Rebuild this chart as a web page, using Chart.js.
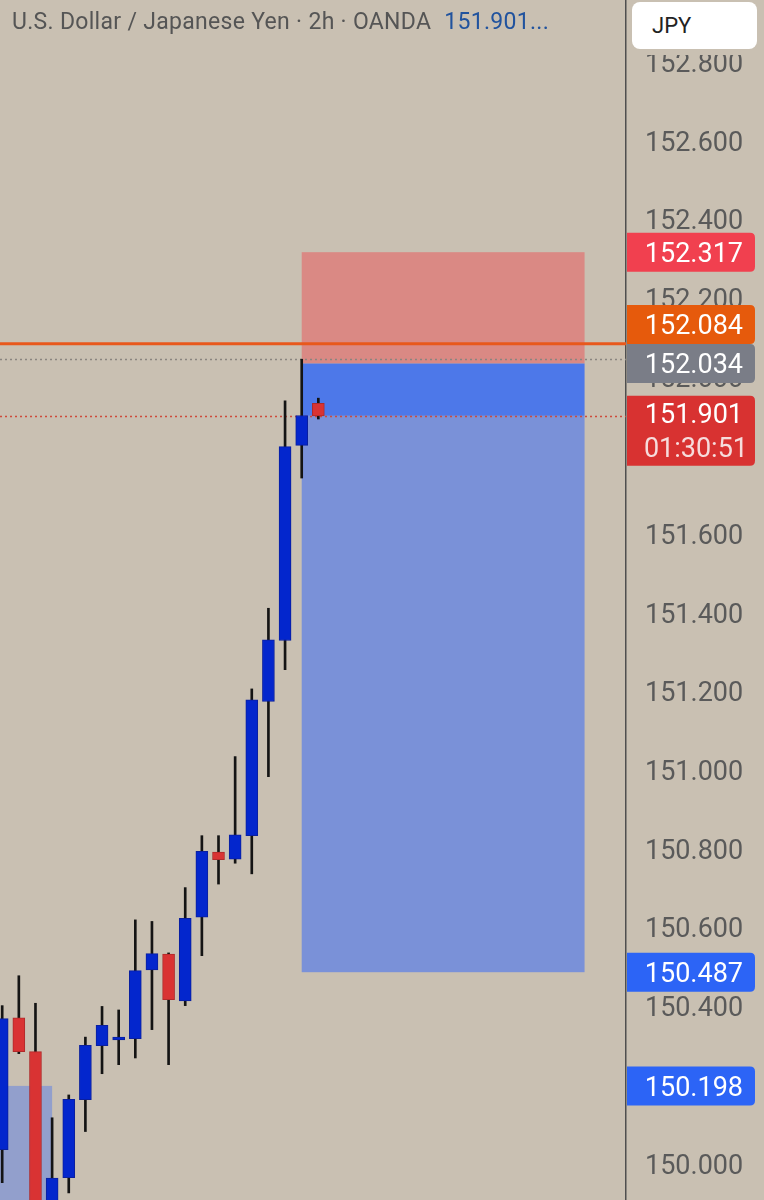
<!DOCTYPE html>
<html lang="en">
<head>
    <meta charset="UTF-8">
    <title>USDJPY 2h</title>
    <script src="https://cdn.jsdelivr.net/npm/chart.js"></script>
    <style>
        body { margin: 0; background: #c9c0b2; }
        #wrap { position: relative; width: 764px; height: 1200px; overflow: hidden; }
        #title {
            position: absolute; left: 12px; top: 8px;
            font: 23px Roboto, sans-serif; letter-spacing: 0.3px; color: #555; white-space: nowrap;
        }
        #title .price { color: #21539e; margin-left: 13px; }
        #unit {
            position: absolute; left: 628px; top: 0; width: 136px; height: 55px;
            background: #c9c0b2;
        }
        #unit div {
            position: absolute; left: 4px; top: 2px; width: 125px; height: 47px;
            background: #fff; border-radius: 8px;
            font: 22px Roboto, sans-serif; color: #222; line-height: 47px;
            box-sizing: border-box; padding-left: 20px;
        }
    </style>
</head>
<body>
<div id="wrap">
    <canvas id="chart" width="764" height="1200"></canvas>
    <div id="title">U.S. Dollar / Japanese Yen · 2h · OANDA<span class="price">151.901...</span></div>
    <div id="unit"><div>JPY</div></div>
</div>

<script>
    // candle data (2h bars, oldest first)
    const opens  = [150.036, 150.371, 150.285, 149.870, 149.965, 150.163, 150.300, 150.315, 150.318, 150.493,
                    150.533, 150.414, 150.627, 150.792, 150.774, 150.834, 151.175, 151.330, 151.826, 151.933];
    const highs  = [150.402, 150.478, 150.408, 150.117, 150.175, 150.322, 150.400, 150.391, 150.620, 150.616,
                    150.536, 150.702, 150.834, 150.834, 151.035, 151.207, 151.412, 151.939, 152.045, 151.946];
    const lows   = [149.952, 150.280, 149.800, 149.830, 149.926, 150.082, 150.229, 150.252, 150.269, 150.341,
                    150.252, 150.402, 150.529, 150.711, 150.764, 150.737, 150.984, 151.256, 151.743, 151.893];
    const closes = [150.369, 150.285, 149.850, 149.964, 150.164, 150.301, 150.352, 150.322, 150.491, 150.534,
                    150.417, 150.624, 150.794, 150.773, 150.836, 151.179, 151.332, 151.823, 151.902, 151.901];

    const yTicks = [150.0, 150.2, 150.4, 150.6, 150.8, 151.0, 151.2, 151.4, 151.6, 151.8, 152.0, 152.2, 152.4, 152.6, 152.8];

    // short position tool
    const positionBars = [18, 35];
    const stopLevel = 152.317;
    const entryLevel = 152.034;
    const targetLevel = 150.487;
    const lastPrice = 151.901;
    const countdown = '01:30:51';

    // older position (only target zone visible)
    const oldBoxBars = [-6, 3];
    const oldBoxTop = 150.198;

    const alertLevel = 152.084;
    const highLevel = 152.045;

    // price tags on the axis
    const tagValues = [152.317, 152.084, 152.034, 151.901, 150.487, 150.198];
    const tagColors = ['#f1404f', '#e65a0c', '#7a7d87', '#d83231', '#2c64f6', '#2c64f6'];

    const upColor = '#0326cd';
    const downColor = '#d93333';

    const idx = opens.map((_, i) => i);
    const bodies = idx.map(i => ({ x: i, y: [opens[i], closes[i]] }));
    const wicks = idx.map(i => ({ x: i, y: [lows[i], highs[i]] }));
    const bodyColors = idx.map(i => closes[i] >= opens[i] ? upColor : downColor);
    const bodyBorders = idx.map(i => closes[i] >= opens[i] ? '#0a1f9e' : '#b02a2a');

    function dotted(ctx, y, x0, x1, color) {
        ctx.save();
        ctx.strokeStyle = color;
        ctx.lineWidth = 1.5;
        ctx.setLineDash([2, 3]);
        ctx.beginPath();
        ctx.moveTo(x0, y);
        ctx.lineTo(x1, y);
        ctx.stroke();
        ctx.restore();
    }

    function roundRight(ctx, x, y, w, h, r) {
        ctx.beginPath();
        ctx.moveTo(x, y);
        ctx.lineTo(x + w - r, y);
        ctx.quadraticCurveTo(x + w, y, x + w, y + r);
        ctx.lineTo(x + w, y + h - r);
        ctx.quadraticCurveTo(x + w, y + h, x + w - r, y + h);
        ctx.lineTo(x, y + h);
        ctx.closePath();
    }

    const overlay = {
        id: 'overlay',
        beforeDatasetsDraw(chart) {
            const { ctx, chartArea: a, scales: { x, y } } = chart;
            ctx.save();
            ctx.beginPath();
            ctx.rect(a.left, a.top, a.right - a.left, a.bottom - a.top);
            ctx.clip();

            // old target zone bottom-left
            const ox0 = x.getPixelForValue(oldBoxBars[0]);
            const ox1 = x.getPixelForValue(oldBoxBars[1]);
            ctx.fillStyle = 'rgba(80, 120, 235, 0.45)';
            ctx.fillRect(ox0, y.getPixelForValue(oldBoxTop), ox1 - ox0, a.bottom - y.getPixelForValue(oldBoxTop) + 5);

            // position box
            const px0 = x.getPixelForValue(positionBars[0]);
            const px1 = x.getPixelForValue(positionBars[1]);
            const yStop = y.getPixelForValue(stopLevel);
            const yEntry = y.getPixelForValue(entryLevel);
            const yLast = y.getPixelForValue(lastPrice);
            const yTarget = y.getPixelForValue(targetLevel);
            ctx.fillStyle = '#da8984';
            ctx.fillRect(px0, yStop, px1 - px0, yEntry - yStop);
            ctx.fillStyle = '#4d78e9';
            ctx.fillRect(px0, yEntry, px1 - px0, yLast - yEntry);
            ctx.fillStyle = '#7a91d8';
            ctx.fillRect(px0, yLast, px1 - px0, yTarget - yLast);

            // horizontal levels
            ctx.strokeStyle = '#e8581c';
            ctx.lineWidth = 3;
            ctx.beginPath();
            const yAlert = y.getPixelForValue(alertLevel);
            ctx.moveTo(a.left, yAlert);
            ctx.lineTo(a.right, yAlert);
            ctx.stroke();
            dotted(ctx, Math.round(y.getPixelForValue(highLevel)) + 0.5, a.left, a.right, '#8a8580');
            dotted(ctx, Math.round(yLast) + 0.5, a.left, a.right, '#cf4a3a');
            ctx.restore();
        },
        afterDraw(chart) {
            const { ctx, scales: { y } } = chart;
            const left = y.left;
            const h = 39;
            // stack tags so they do not overlap (move upward)
            const tags = tagValues.map((v, i) => ({
                v, color: tagColors[i],
                top: v === lastPrice ? y.getPixelForValue(v) - 20 : y.getPixelForValue(v) - h / 2,
                h: v === lastPrice ? 70 : h
            }));
            for (let i = tags.length - 2; i >= 0; i--) {
                const below = tags[i + 1];
                if (tags[i].top + tags[i].h > below.top) tags[i].top = below.top - tags[i].h;
            }
            ctx.save();
            ctx.font = '27px Roboto, sans-serif';
            ctx.textAlign = 'right';
            ctx.textBaseline = 'middle';
            tags.forEach(t => {
                ctx.fillStyle = t.color;
                roundRight(ctx, left + 1, t.top, 128, t.h, 5);
                ctx.fill();
                ctx.fillStyle = '#fff';
                if (t.v === lastPrice) {
                    ctx.fillText(t.v.toFixed(3), 743, t.top + 20);
                    ctx.fillStyle = '#f6dcdc';
                    ctx.fillText(countdown, 748, t.top + 54);
                } else {
                    ctx.fillText(t.v.toFixed(3), 743, t.top + t.h / 2 + 3);
                }
            });
            ctx.restore();
        }
    };

    new Chart(document.getElementById('chart'), {
        type: 'bar',
        data: {
            datasets: [
                {
                    label: 'body',
                    data: bodies,
                    backgroundColor: bodyColors,
                    borderColor: bodyBorders,
                    borderWidth: 1,
                    borderSkipped: false,
                    barThickness: 12,
                    grouped: false,
                    order: 0
                },
                {
                    label: 'wick',
                    data: wicks,
                    backgroundColor: '#141414',
                    borderWidth: 0,
                    barThickness: 2,
                    grouped: false,
                    order: 1
                }
            ]
        },
        options: {
            responsive: false,
            animation: false,
            layout: { padding: 0, autoPadding: false },
            plugins: { legend: { display: false }, tooltip: { enabled: false } },
            scales: {
                x: {
                    type: 'linear',
                    display: false,
                    offset: false,
                    min: -0.132,
                    max: 37.49
                },
                y: {
                    position: 'right',
                    min: 149.908,
                    max: 152.958,
                    afterFit: s => { s.width = 138; s.paddingTop = 0; s.paddingBottom = 0; },
                    afterBuildTicks: s => { s.ticks = yTicks.map(v => ({ value: v })); },
                    grid: { display: true, color: 'transparent', drawTicks: false },
                    border: { display: true, color: '#4f4f4f', width: 1.5 },
                    ticks: {
                        padding: 19,
                        labelOffset: 3,
                        color: '#5a5a5a',
                        font: { family: 'Roboto', size: 27 },
                        callback: v => Number(v).toFixed(3)
                    }
                }
            }
        },
        plugins: [overlay]
    });
</script>
</body>
</html>
